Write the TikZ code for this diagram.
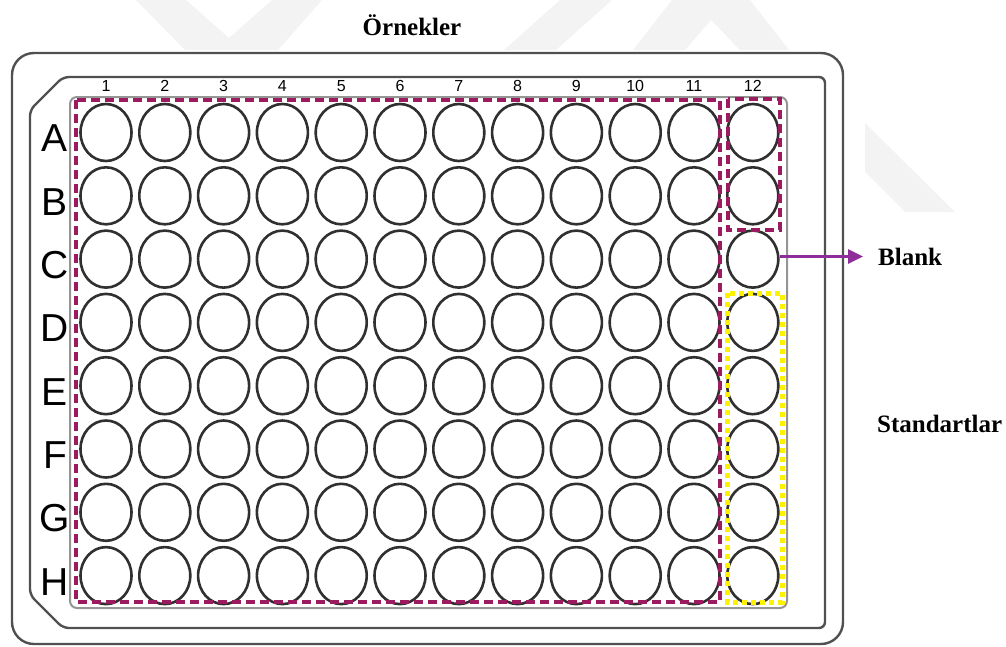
\documentclass[tikz,border=0pt]{standalone}
\usepackage{fontspec}
\setmainfont{Liberation Serif}
\setsansfont{Liberation Sans}
\usetikzlibrary{positioning,shapes.geometric,arrows.meta}
\definecolor{plateline}{HTML}{505050}
\definecolor{wellline}{HTML}{303030}
\definecolor{areaedge}{HTML}{959595}
\definecolor{maroon}{HTML}{9B1B5E}
\definecolor{stdyellow}{HTML}{FFF200}
\definecolor{arrowpurple}{HTML}{8E2C9A}
\definecolor{wmgray}{HTML}{F3F3F3}
\begin{document}
\begin{tikzpicture}[x=1pt, y=-1pt,
  well/.style={ellipse, draw=wellline, line width=2.6pt, minimum width=51pt, minimum height=57pt, inner sep=0pt},
  rowlbl/.style={font=\sffamily\fontsize{39}{39}\selectfont, inner sep=0pt},
  collbl/.style={font=\sffamily\fontsize{16}{16}\selectfont, inner sep=0pt},
  lbl/.style={font=\bfseries\fontsize{25}{30}\selectfont, inner sep=0pt},
  plate/.style={draw=plateline, line width=2.4pt},
  grp/.style={draw=maroon, line width=3.2pt, dash pattern=on 9pt off 5pt},
  stdgrp/.style={draw=stdyellow, line width=5pt, dash pattern=on 5pt off 4pt}]
\useasboundingbox (0,0) rectangle (1006,646);

\fill[wmgray] (136,0) -- (186,0) -- (229,38) -- (272,0) -- (322,0) -- (278,50) -- (185,50) -- cycle;
\fill[wmgray] (504,50) -- (556,50) -- (612,0) -- (560,0) -- cycle;
\fill[wmgray] (633,50) -- (672,0) -- (750,0) -- (789,50) -- (740,50) -- (711,20) -- (685,50) -- cycle;
\fill[wmgray] (865,123) -- (955,212) -- (905,212) -- (865,172) -- cycle;

\draw[plate, rounded corners=22pt] (12,53) rectangle (843,644);
\draw[plate, rounded corners=6pt] (30,110) -- (63,77) -- (825,77) -- (825,628) -- (63,628) -- (30,595) -- cycle;
\draw[draw=areaedge, line width=2pt, rounded corners=7pt] (70,97) rectangle (787,608);

\foreach \c in {1,...,12}
  \node[collbl] (col-\c) at ({106+58.8*(\c-1)},86) {\c};
\foreach \r [count=\i from 0] in {A,B,C,D,E,F,G,H} {
  \node[rowlbl] (row-\r) at (55,{138.5+63.3*\i}) {\r};
  \foreach \c in {1,...,12}
    \node[well] (w-\r-\c) at ({106+58.8*(\c-1)},{132.5+63.3*\i}) {};
}

\draw[grp] (76,100) rectangle (720,602);
\draw[grp] (728,99) rectangle (780,230);
\draw[stdgrp] (727,293) rectangle (782,602);

\node[lbl, anchor=base] (samples) at (412,35) {Örnekler};
\node[lbl, anchor=west] (blank) at (878,256.5) {Blank};
\node[lbl, anchor=west] (standards) at (877,424) {Standartlar};

\draw[draw=arrowpurple, line width=3pt, -{Triangle[length=15pt,width=14pt]}, shorten >=15pt]
  (w-C-12.east |- blank.west) -- (blank.west);
\end{tikzpicture}
\end{document}
